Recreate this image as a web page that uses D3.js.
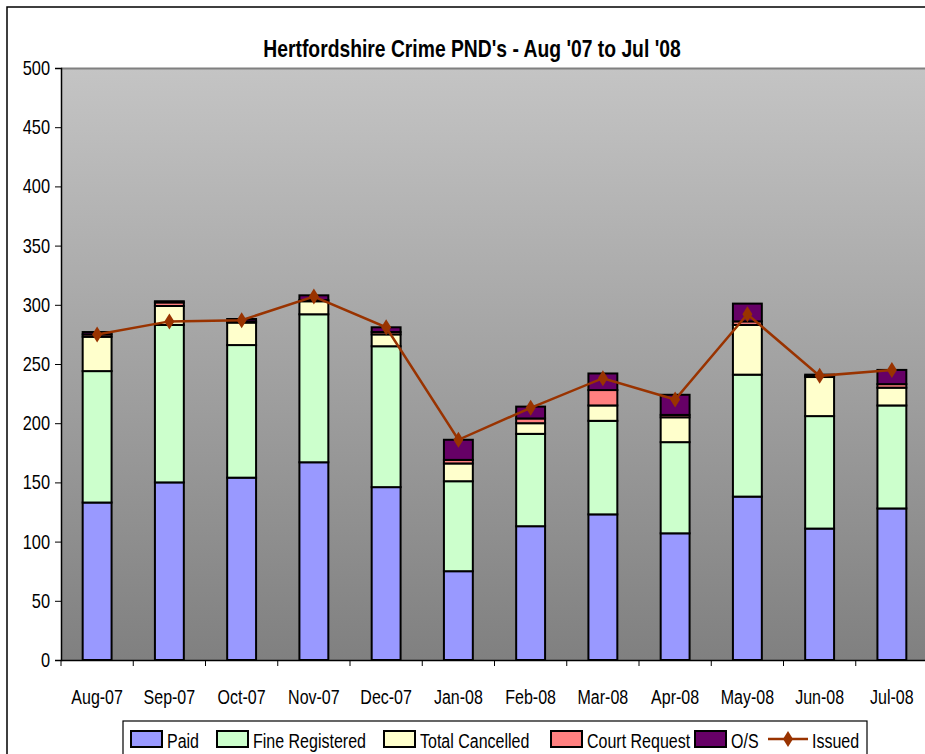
<!DOCTYPE html>
<html>
<head>
<meta charset="utf-8">
<script src="https://cdn.jsdelivr.net/npm/d3@7"></script>
<style>
  body { margin: 0; background: #fff; }
  svg text { font-family: "Liberation Sans", Arial, sans-serif; fill: #000; }
</style>
</head>
<body>
<svg id="chart" width="925" height="754"></svg>
<script>
// data
const months = ['Aug-07', 'Sep-07', 'Oct-07', 'Nov-07', 'Dec-07', 'Jan-08', 'Feb-08', 'Mar-08', 'Apr-08', 'May-08', 'Jun-08', 'Jul-08'];
const paid = [133, 150, 154, 167, 146, 75, 113, 123, 107, 138, 111, 128];
const fineRegistered = [111, 133, 112, 125, 119, 76, 78, 79, 77, 103, 95, 87];
const totalCancelled = [29, 16, 19, 11, 10, 15, 9, 13, 21, 42, 33, 15];
const courtRequest = [2, 3, 1, 1, 2, 3, 4, 13, 2, 3, 1, 3];
const outstanding = [2, 1, 2, 4, 4, 17, 10, 14, 17, 15, 1, 12];
const issued = [275, 286, 287, 307, 281, 186, 213, 238, 220, 292, 240, 245];
const yTicks = [0, 50, 100, 150, 200, 250, 300, 350, 400, 450, 500];

const seriesNames = ['Paid', 'Fine Registered', 'Total Cancelled', 'Court Request', 'O/S'];
const seriesColors = ['#9999FF', '#CCFFCC', '#FFFFCC', '#FF8080', '#660066'];
const lineColor = '#993300';

const svg = d3.select('#chart');
const plotLeft = 61, plotTop = 68, plotBottom = 660, plotRight = 928;

// no narrow font installed, so squeeze text horizontally round its own x
function narrow(sel, k) {
  sel.each(function () {
    const t = d3.select(this);
    const tx = +(t.attr('x') || 0);
    t.attr('transform', `translate(${tx},0) scale(${k},1) translate(${-tx},0)`);
  });
}

// outer chart border
svg.append('path')
  .attr('d', 'M7,760 L7,7 L930,7')
  .attr('fill', 'none')
  .attr('stroke', '#000')
  .attr('stroke-width', 1.5);

// plot background gradient
const grad = svg.append('defs').append('linearGradient')
  .attr('id', 'bg').attr('x1', 0).attr('y1', 0).attr('x2', 0).attr('y2', 1);
grad.append('stop').attr('offset', '0%').attr('stop-color', '#c4c4c4');
grad.append('stop').attr('offset', '100%').attr('stop-color', '#808080');

svg.append('rect')
  .attr('x', plotLeft).attr('y', plotTop)
  .attr('width', plotRight - plotLeft).attr('height', plotBottom - plotTop)
  .attr('fill', 'url(#bg)');
svg.append('line')
  .attr('x1', plotLeft).attr('x2', plotRight).attr('y1', plotTop + 0.5).attr('y2', plotTop + 0.5)
  .attr('stroke', '#808080').attr('stroke-width', 2);

const x = d3.scaleBand().domain(months).range([plotLeft, plotRight]).paddingInner(0.6).paddingOuter(0.3);
const xBand = d3.scaleBand().domain(months).range([plotLeft, plotRight]);
const y = d3.scaleLinear().domain([0, 500]).range([plotBottom, plotTop]);

// stacked data
const rows = months.map((m, i) => ({
  month: m,
  'Paid': paid[i],
  'Fine Registered': fineRegistered[i],
  'Total Cancelled': totalCancelled[i],
  'Court Request': courtRequest[i],
  'O/S': outstanding[i]
}));
const stacked = d3.stack().keys(seriesNames)(rows);

svg.append('g')
  .selectAll('g')
  .data(stacked)
  .join('g')
  .attr('fill', (d, i) => seriesColors[i])
  .selectAll('rect')
  .data((d) => d)
  .join('rect')
  .attr('x', (d) => x(d.data.month))
  .attr('y', (d) => y(d[1]))
  .attr('width', x.bandwidth())
  .attr('height', (d) => y(d[0]) - y(d[1]))
  .attr('stroke', '#000')
  .attr('stroke-width', 2);

// axes
const yAxis = svg.append('g')
  .attr('transform', `translate(${plotLeft},0)`)
  .call(d3.axisLeft(y).tickValues(yTicks).tickSize(6).tickPadding(5));
yAxis.select('.domain').attr('stroke', '#000').attr('stroke-width', 1.5);
yAxis.selectAll('.tick line').attr('stroke', '#000');
yAxis.selectAll('.tick text')
  .attr('font-size', 20)
  .attr('font-family', '"Liberation Sans", Arial, sans-serif')
  .call(narrow, 0.82);

const xAxis = svg.append('g')
  .attr('transform', `translate(0,${plotBottom})`)
  .call(d3.axisBottom(xBand).tickSize(0).tickPadding(30));
xAxis.select('.domain').attr('stroke', '#000').attr('stroke-width', 1.5);
xAxis.selectAll('.tick text')
  .attr('font-size', 20)
  .attr('font-family', '"Liberation Sans", Arial, sans-serif')
  .call(narrow, 0.8);
// tick marks at category boundaries
xAxis.selectAll('line.sep')
  .data(months.concat(['end']))
  .join('line')
  .attr('class', 'sep')
  .attr('x1', (d, i) => plotLeft + i * xBand.step())
  .attr('x2', (d, i) => plotLeft + i * xBand.step())
  .attr('y1', 0)
  .attr('y2', 6)
  .attr('stroke', '#000');

// issued line
const line = d3.line()
  .x((d, i) => x(months[i]) + x.bandwidth() / 2)
  .y((d) => y(d));
svg.append('path')
  .datum(issued)
  .attr('d', line)
  .attr('fill', 'none')
  .attr('stroke', lineColor)
  .attr('stroke-width', 2.5);

const diamond = 'M0,-8 L5,0 L0,8 L-5,0 Z';
svg.append('g')
  .selectAll('path')
  .data(issued)
  .join('path')
  .attr('transform', (d, i) => `translate(${x(months[i]) + x.bandwidth() / 2},${y(d)})`)
  .attr('d', diamond)
  .attr('fill', lineColor);

// title
svg.append('text')
  .attr('x', 472)
  .attr('y', 57)
  .attr('text-anchor', 'middle')
  .attr('font-size', 23)
  .attr('font-weight', 'bold')
  .text("Hertfordshire Crime PND's - Aug '07 to Jul '08")
  .call(narrow, 0.84);

// legend
const legend = svg.append('g');
legend.append('rect')
  .attr('x', 123).attr('y', 721)
  .attr('width', 744).attr('height', 45)
  .attr('fill', '#fff')
  .attr('stroke', '#000')
  .attr('stroke-width', 1.2);

const legendX = [131, 217, 384, 551, 695];
const legendItems = legend.selectAll('g.item')
  .data(seriesNames)
  .join('g')
  .attr('class', 'item')
  .attr('transform', (d, i) => `translate(${legendX[i]},0)`);
legendItems.append('rect')
  .attr('x', 0).attr('y', 731)
  .attr('width', 31).attr('height', 16)
  .attr('fill', (d, i) => seriesColors[i])
  .attr('stroke', '#000')
  .attr('stroke-width', 2);
legendItems.append('text')
  .attr('x', 36).attr('y', 748)
  .attr('font-size', 20)
  .text((d) => d)
  .call(narrow, 0.8);

const issuedLegend = legend.append('g').attr('transform', 'translate(768,0)');
issuedLegend.append('line')
  .attr('x1', 0).attr('x2', 40).attr('y1', 739).attr('y2', 739)
  .attr('stroke', lineColor).attr('stroke-width', 2.5);
issuedLegend.append('path')
  .attr('transform', 'translate(20,739)')
  .attr('d', diamond)
  .attr('fill', lineColor);
issuedLegend.append('text')
  .attr('x', 44).attr('y', 748)
  .attr('font-size', 20)
  .text('Issued')
  .call(narrow, 0.8);
</script>
</body>
</html>
